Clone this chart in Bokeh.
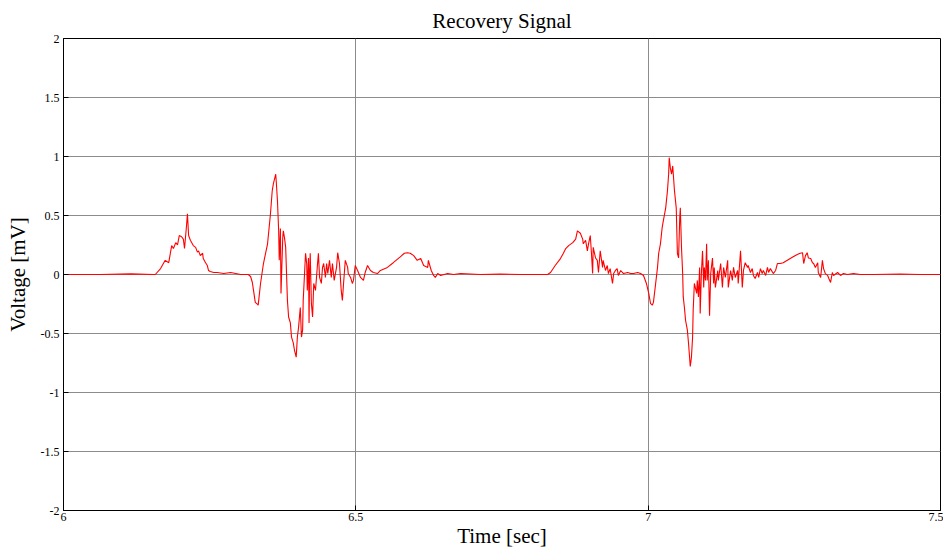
from bokeh.plotting import figure
from bokeh.models import Range1d, FixedTicker
from bokeh.embed import file_html
from bokeh.resources import INLINE

# ---- data ----
time_s = [
    6.000, 6.063, 6.115, 6.154,
    6.157, 6.166, 6.174, 6.180, 6.185, 6.188, 6.192, 6.195, 6.198, 6.202,
    6.205, 6.207, 6.210, 6.212, 6.214, 6.217, 6.222, 6.226, 6.229, 6.231,
    6.234, 6.238, 6.239, 6.243, 6.246, 6.248, 6.251, 6.257, 6.263, 6.274,
    6.286, 6.303, 6.316,
    6.320, 6.323, 6.325, 6.328, 6.332, 6.333, 6.337, 6.342, 6.349, 6.354,
    6.357, 6.359, 6.363, 6.364, 6.366, 6.368, 6.369, 6.371, 6.372, 6.375,
    6.376, 6.378, 6.380, 6.383, 6.385, 6.388, 6.390, 6.393, 6.395, 6.398,
    6.400, 6.402, 6.405, 6.407, 6.409, 6.410, 6.414, 6.416, 6.417, 6.419,
    6.420, 6.421, 6.422, 6.424, 6.426, 6.428, 6.431, 6.434, 6.436, 6.438,
    6.441, 6.443, 6.445, 6.448, 6.450, 6.452, 6.455, 6.458, 6.460, 6.463,
    6.467, 6.469, 6.472, 6.475, 6.477, 6.479, 6.482, 6.486, 6.487, 6.491,
    6.494, 6.496, 6.499, 6.503, 6.508, 6.513, 6.516, 6.520, 6.525, 6.530,
    6.537, 6.542, 6.554, 6.564, 6.576, 6.583, 6.588, 6.593, 6.599, 6.605,
    6.611, 6.616, 6.623, 6.624, 6.629, 6.633, 6.636, 6.640, 6.645, 6.657,
    6.667, 6.679, 6.713, 6.747, 6.782, 6.828,
    6.833, 6.841, 6.850, 6.855, 6.859, 6.864, 6.871, 6.876, 6.879, 6.884,
    6.888, 6.889, 6.893, 6.896, 6.898, 6.901, 6.903, 6.905, 6.906, 6.910,
    6.913, 6.915, 6.918, 6.922, 6.923, 6.927, 6.930, 6.932, 6.935, 6.939,
    6.941, 6.944, 6.947, 6.949, 6.953, 6.956, 6.958, 6.965, 6.970, 6.975,
    6.982, 6.987, 6.992, 6.997,
    7.001, 7.004, 7.007, 7.009, 7.012, 7.016, 7.018, 7.021, 7.024, 7.026,
    7.030, 7.033, 7.035, 7.036, 7.038, 7.040, 7.042, 7.043, 7.045, 7.048,
    7.050, 7.052, 7.054, 7.055, 7.057, 7.059, 7.060, 7.062, 7.064, 7.067,
    7.069, 7.072, 7.074, 7.076, 7.077, 7.079, 7.083, 7.084, 7.086, 7.088,
    7.089, 7.091, 7.093, 7.095, 7.096, 7.098, 7.100, 7.101, 7.103, 7.105,
    7.107, 7.110, 7.112, 7.113, 7.115, 7.119, 7.120, 7.124, 7.127, 7.129,
    7.132, 7.136, 7.137, 7.141, 7.144, 7.146, 7.149, 7.153, 7.154, 7.158,
    7.161, 7.163, 7.166, 7.170, 7.171, 7.175, 7.178, 7.180, 7.183, 7.187,
    7.189, 7.192, 7.195, 7.197, 7.201, 7.204, 7.206, 7.209, 7.213, 7.214,
    7.218, 7.221, 7.226, 7.231, 7.238, 7.243, 7.248, 7.255, 7.260, 7.264,
    7.266, 7.269, 7.272, 7.274, 7.278, 7.281, 7.283, 7.286, 7.290, 7.291,
    7.295, 7.298, 7.300, 7.303, 7.307, 7.309, 7.312, 7.315, 7.317, 7.324,
    7.329, 7.334, 7.341, 7.351, 7.363, 7.385, 7.431, 7.465, 7.500,
]
voltage_mv = [
    0.000, 0.000, 0.005, 0.000,
    0.000, 0.050, 0.120, 0.100, 0.245, 0.220, 0.270, 0.250, 0.330, 0.320,
    0.300, 0.220, 0.390, 0.515, 0.330, 0.290, 0.245, 0.230, 0.190, 0.200,
    0.160, 0.180, 0.135, 0.100, 0.076, 0.034, 0.025, 0.017, 0.017, 0.008,
    0.017, 0.000, 0.000,
    -0.017, -0.068, -0.135, -0.236, -0.253, -0.260, -0.076, 0.093, 0.260, 0.515,
    0.710, 0.770, 0.850, 0.780, 0.620, 0.370, 0.120, 0.390, -0.160, 0.310,
    0.370, 0.310, 0.230, -0.220, -0.360, -0.410, -0.530, -0.580, -0.640, -0.700,
    -0.530, -0.450, -0.280, -0.530, -0.470, -0.220, 0.180, 0.090, -0.135, 0.140,
    -0.410, 0.034, 0.180, -0.245, -0.360, -0.076, -0.135, 0.060, 0.180, -0.025,
    -0.076, 0.060, 0.093, -0.025, 0.093, 0.008, 0.120, -0.025, 0.093, -0.050,
    0.060, 0.185, 0.093, -0.135, -0.220, -0.076, 0.120, 0.060, 0.008, -0.025,
    -0.076, -0.050, 0.076, 0.034, -0.025, -0.050, 0.017, 0.076, 0.034, 0.017,
    0.008, 0.034, 0.060, 0.100, 0.150, 0.180, 0.185, 0.180, 0.160, 0.120,
    0.135, 0.076, 0.060, 0.120, 0.034, -0.008, -0.025, 0.008, -0.008, 0.008,
    0.000, 0.008, 0.000, 0.003, 0.000, 0.000,
    0.017, 0.076, 0.135, 0.180, 0.220, 0.245, 0.270, 0.300, 0.370, 0.350,
    0.300, 0.260, 0.290, 0.200, 0.260, 0.330, 0.180, 0.008, 0.230, 0.140,
    0.120, 0.017, 0.200, 0.060, 0.120, 0.034, 0.076, 0.008, 0.050, -0.076,
    0.008, 0.034, 0.050, -0.008, 0.034, 0.017, 0.008, 0.017, 0.008, 0.008,
    0.017, 0.008, -0.008, -0.076,
    -0.160, -0.245, -0.260, -0.236, -0.110, 0.060, 0.180, 0.260, 0.400, 0.456,
    0.565, 0.710, 0.850, 0.990, 0.900, 0.850, 0.920, 0.850, 0.710, 0.565,
    0.180, 0.140, 0.480, 0.565, 0.230, 0.008, -0.190, -0.280, -0.390, -0.470,
    -0.580, -0.780, -0.700, -0.530, -0.300, -0.076, -0.160, -0.050, -0.190, 0.060,
    -0.330, 0.008, 0.200, -0.110, 0.060, -0.050, 0.260, -0.050, 0.120, -0.350,
    0.008, 0.140, -0.076, 0.060, -0.110, 0.034, -0.050, 0.093, -0.110, 0.060,
    -0.025, 0.120, -0.110, 0.034, -0.050, 0.060, -0.025, 0.034, -0.076, 0.200,
    -0.110, 0.034, 0.100, 0.060, 0.076, 0.017, 0.050, -0.008, -0.034, 0.017,
    -0.025, 0.050, 0.008, 0.034, -0.008, 0.060, 0.017, 0.050, 0.017, 0.008,
    0.034, 0.093, 0.093, 0.100, 0.120, 0.135, 0.150, 0.170, 0.180, 0.185,
    0.093, 0.160, 0.185, 0.140, 0.135, 0.100, 0.093, 0.060, 0.100, 0.017,
    -0.025, 0.120, 0.050, 0.008, -0.008, -0.034, -0.068, 0.017, -0.008, 0.017,
    -0.008, 0.008, 0.000, 0.008, 0.000, 0.000, 0.004, 0.000, 0.000,
]

x_ticks = [6.0, 6.5, 7.0, 7.5]
x_tick_labels = ["6", "6.5", "7", "7.5"]
y_ticks = [-2.0, -1.5, -1.0, -0.5, 0.0, 0.5, 1.0, 1.5, 2.0]
y_tick_labels = ["-2", "-1.5", "-1", "-0.5", "0", "0.5", "1", "1.5", "2"]

FONT = "Liberation Serif"

p = figure(
    width=943, height=550,
    output_backend="svg", toolbar_location=None,
    x_range=Range1d(6.0, 7.5), y_range=Range1d(-2.0, 2.0),
    title="Recovery Signal",
    min_border_left=63, min_border_right=3,
    min_border_top=38, min_border_bottom=38,
    background_fill_color="white", border_fill_color="white",
)

p.line(time_s, voltage_mv, line_color="#ff0000", line_width=1.1)

# title
p.title.text_font = FONT
p.title.text_font_size = "21px"
p.title.text_font_style = "normal"
p.title.align = "center"
p.title.text_color = "black"
p.title.standoff = 12

# axes
for ax, ticks, labels in ((p.xaxis[0], x_ticks, x_tick_labels),
                          (p.yaxis[0], y_ticks, y_tick_labels)):
    ax.ticker = FixedTicker(ticks=ticks)
    ax.major_label_overrides = dict(zip(ticks, labels))
    ax.major_label_text_font = FONT
    ax.major_label_text_font_size = "12px"
    ax.major_label_text_color = "black"
    ax.axis_label_text_font = FONT
    ax.axis_label_text_font_size = "21px"
    ax.axis_label_text_font_style = "normal"
    ax.axis_label_text_color = "black"
    ax.major_tick_in = 5
    ax.major_tick_out = 0
    ax.minor_tick_line_color = None
    ax.axis_line_color = "black"
    ax.major_tick_line_color = "black"

p.xaxis.axis_label = "Time [sec]"
p.yaxis.axis_label = "Voltage [mV]"
p.xaxis.major_label_standoff = 2
p.yaxis.major_label_standoff = 4
p.xaxis.axis_label_standoff = 0
p.yaxis.axis_label_standoff = 8

# grid
p.xgrid.ticker = FixedTicker(ticks=x_ticks)
p.ygrid.ticker = FixedTicker(ticks=y_ticks)
p.grid.grid_line_color = "#8c8c8c"
p.grid.grid_line_alpha = 1.0
p.grid.grid_line_width = 1

p.outline_line_color = "black"
p.outline_line_width = 1
p.outline_line_alpha = 1.0

open("out.html", "w").write(file_html(p, INLINE))
